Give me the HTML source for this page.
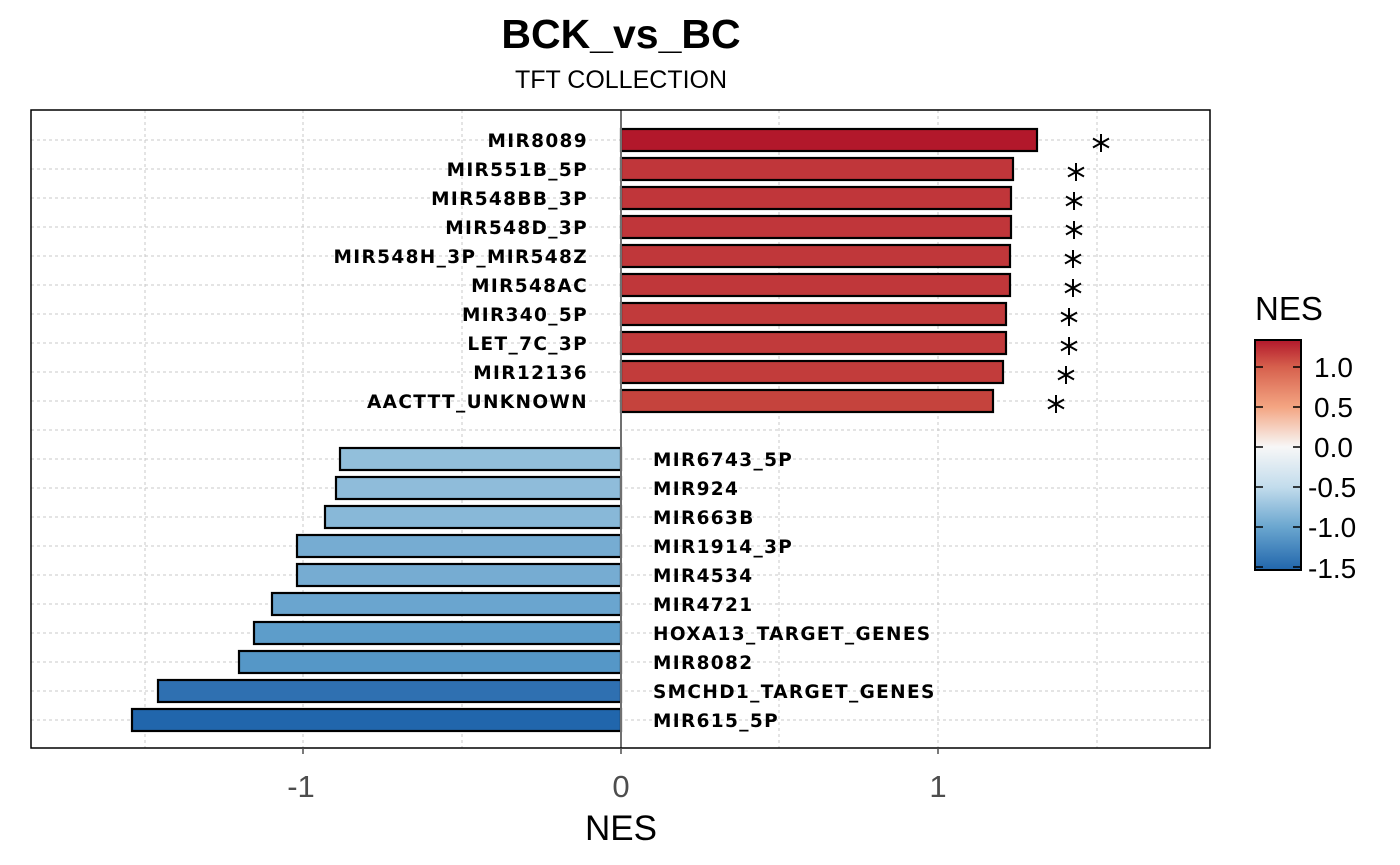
<!DOCTYPE html>
<html><head><meta charset="utf-8"><style>
html,body{margin:0;padding:0;background:#fff;}
svg{display:block;}
.lab{font-family:"DejaVu Sans",sans-serif;font-weight:bold;font-size:18.5px;fill:#000;letter-spacing:1.35px;}
.ax{font-family:"Liberation Sans",sans-serif;font-size:31px;fill:#4d4d4d;}
.lg{font-family:"Liberation Sans",sans-serif;font-size:28px;fill:#000;}
</style></head><body>
<svg width="1400" height="865" viewBox="0 0 1400 865" xmlns="http://www.w3.org/2000/svg">
<defs>
<linearGradient id="cb" x1="0" y1="0" x2="0" y2="1">
<stop offset="0" stop-color="#b2182b"/>
<stop offset="0.117" stop-color="#d6604d"/>
<stop offset="0.291" stop-color="#f4a582"/>
<stop offset="0.465" stop-color="#f7f7f7"/>
<stop offset="0.64" stop-color="#c2dcec"/>
<stop offset="0.814" stop-color="#6aa6cf"/>
<stop offset="1" stop-color="#2166ac"/>
</linearGradient>
<path id="st" d="M0,-9V9M-8,-4.5L8,4.5M-8,4.5L8,-4.5" fill="none" stroke="#000" stroke-width="2"/>
</defs>
<text x="621" y="48" text-anchor="middle" font-family="Liberation Sans,sans-serif" font-weight="bold" font-size="41" fill="#000">BCK_vs_BC</text>
<text x="621" y="88" text-anchor="middle" font-family="Liberation Sans,sans-serif" font-size="25" fill="#000">TFT COLLECTION</text>
<g stroke="#c8c8c8" stroke-width="1" stroke-dasharray="3,3">
<line x1="145" y1="110" x2="145" y2="748"/><line x1="303" y1="110" x2="303" y2="748"/><line x1="462" y1="110" x2="462" y2="748"/><line x1="779" y1="110" x2="779" y2="748"/><line x1="938" y1="110" x2="938" y2="748"/><line x1="1097" y1="110" x2="1097" y2="748"/>
<line x1="31" y1="140" x2="1210" y2="140"/><line x1="31" y1="169" x2="1210" y2="169"/><line x1="31" y1="198" x2="1210" y2="198"/><line x1="31" y1="227" x2="1210" y2="227"/><line x1="31" y1="256" x2="1210" y2="256"/><line x1="31" y1="285" x2="1210" y2="285"/><line x1="31" y1="314" x2="1210" y2="314"/><line x1="31" y1="343" x2="1210" y2="343"/><line x1="31" y1="372" x2="1210" y2="372"/><line x1="31" y1="401" x2="1210" y2="401"/><line x1="31" y1="430" x2="1210" y2="430"/><line x1="31" y1="459" x2="1210" y2="459"/><line x1="31" y1="488" x2="1210" y2="488"/><line x1="31" y1="517" x2="1210" y2="517"/><line x1="31" y1="546" x2="1210" y2="546"/><line x1="31" y1="575" x2="1210" y2="575"/><line x1="31" y1="604" x2="1210" y2="604"/><line x1="31" y1="633" x2="1210" y2="633"/><line x1="31" y1="662" x2="1210" y2="662"/><line x1="31" y1="691" x2="1210" y2="691"/><line x1="31" y1="720" x2="1210" y2="720"/>
</g>
<g stroke="#000" stroke-width="2.2">
<rect x="621" y="129" width="416" height="22" fill="#b2182b"/>
<rect x="621" y="158" width="392" height="22" fill="#c0363a"/>
<rect x="621" y="187" width="390" height="22" fill="#c0363a"/>
<rect x="621" y="216" width="390" height="22" fill="#c0363a"/>
<rect x="621" y="245" width="389" height="22" fill="#c0373a"/>
<rect x="621" y="274" width="389" height="22" fill="#c0373a"/>
<rect x="621" y="303" width="385" height="22" fill="#c13a3b"/>
<rect x="621" y="332" width="385" height="22" fill="#c13a3b"/>
<rect x="621" y="361" width="382" height="22" fill="#c23c3b"/>
<rect x="621" y="390" width="372" height="22" fill="#c5433d"/>
<rect x="340" y="448" width="281" height="22" fill="#92bfdb"/>
<rect x="336" y="477" width="285" height="22" fill="#8fbcda"/>
<rect x="325" y="506" width="296" height="22" fill="#88b8d8"/>
<rect x="297" y="535" width="324" height="22" fill="#76acd2"/>
<rect x="297" y="564" width="324" height="22" fill="#76acd2"/>
<rect x="272" y="593" width="349" height="22" fill="#6aa5cf"/>
<rect x="254" y="622" width="367" height="22" fill="#5d9dca"/>
<rect x="239" y="651" width="382" height="22" fill="#5597c7"/>
<rect x="158" y="680" width="463" height="22" fill="#2f70b1"/>
<rect x="132" y="709" width="489" height="22" fill="#2166ac"/>
</g>
<line x1="621" y1="110" x2="621" y2="748" stroke="#707070" stroke-width="2"/>
<rect x="31" y="110" width="1179" height="638" fill="none" stroke="#000" stroke-width="1.5"/>
<g stroke="#4d4d4d" stroke-width="1.5">
<line x1="303" y1="748" x2="303" y2="754"/><line x1="621" y1="748" x2="621" y2="754"/><line x1="938" y1="748" x2="938" y2="754"/>
</g>
<g class="lab" text-anchor="end">
<text x="588" y="147">MIR8089</text><text x="588" y="176">MIR551B_5P</text><text x="588" y="205">MIR548BB_3P</text><text x="588" y="234">MIR548D_3P</text><text x="588" y="263">MIR548H_3P_MIR548Z</text><text x="588" y="292">MIR548AC</text><text x="588" y="321">MIR340_5P</text><text x="588" y="350">LET_7C_3P</text><text x="588" y="379">MIR12136</text><text x="588" y="408">AACTTT_UNKNOWN</text>
</g>
<g class="lab">
<text x="653" y="466">MIR6743_5P</text><text x="653" y="495">MIR924</text><text x="653" y="524">MIR663B</text><text x="653" y="553">MIR1914_3P</text><text x="653" y="582">MIR4534</text><text x="653" y="611">MIR4721</text><text x="653" y="640">HOXA13_TARGET_GENES</text><text x="653" y="669">MIR8082</text><text x="653" y="698">SMCHD1_TARGET_GENES</text><text x="653" y="727">MIR615_5P</text>
</g>
<use href="#st" x="1101" y="143"/><use href="#st" x="1076" y="172"/><use href="#st" x="1074" y="201"/><use href="#st" x="1074" y="230"/><use href="#st" x="1073" y="259"/><use href="#st" x="1073" y="288"/><use href="#st" x="1069" y="317"/><use href="#st" x="1069" y="346"/><use href="#st" x="1066" y="375"/><use href="#st" x="1056" y="404"/>
<g class="ax" text-anchor="middle">
<text x="301" y="797">-1</text><text x="621" y="797">0</text><text x="938" y="797">1</text>
</g>
<text x="621" y="840" text-anchor="middle" font-family="Liberation Sans,sans-serif" font-size="35" fill="#000">NES</text>
<text x="1255" y="320" font-family="Liberation Sans,sans-serif" font-size="33" fill="#000">NES</text>
<rect x="1255" y="340" width="46" height="230" fill="url(#cb)" stroke="#000" stroke-width="2"/>
<g stroke="#000" stroke-width="1.5">
<line x1="1255" y1="367" x2="1263" y2="367"/><line x1="1293" y1="367" x2="1301" y2="367"/>
<line x1="1255" y1="407" x2="1263" y2="407"/><line x1="1293" y1="407" x2="1301" y2="407"/>
<line x1="1255" y1="447" x2="1263" y2="447"/><line x1="1293" y1="447" x2="1301" y2="447"/>
<line x1="1255" y1="487" x2="1263" y2="487"/><line x1="1293" y1="487" x2="1301" y2="487"/>
<line x1="1255" y1="527" x2="1263" y2="527"/><line x1="1293" y1="527" x2="1301" y2="527"/>
<line x1="1255" y1="567" x2="1263" y2="567"/><line x1="1293" y1="567" x2="1301" y2="567"/>
</g>
<g class="lg">
<text x="1314" y="377">1.0</text><text x="1314" y="417">0.5</text><text x="1314" y="457">0.0</text><text x="1308" y="497">-0.5</text><text x="1308" y="537">-1.0</text><text x="1308" y="578">-1.5</text>
</g>
</svg>
</body></html>
